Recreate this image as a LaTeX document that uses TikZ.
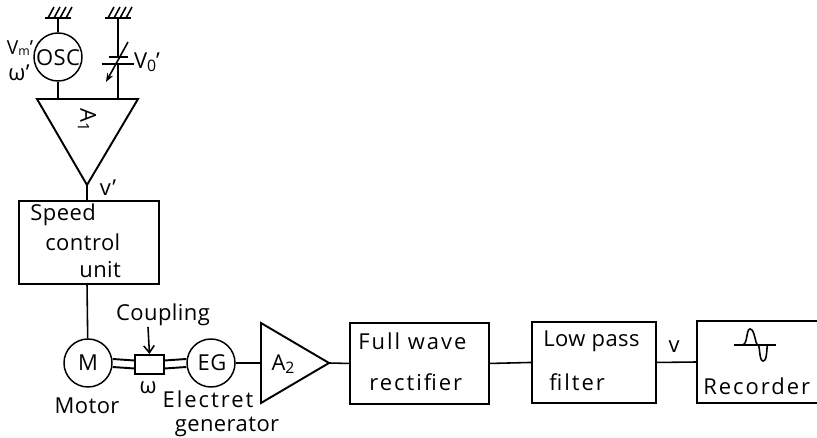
\documentclass[tikz,border=0pt]{standalone}
\usepackage{fontspec}
\setmainfont[LetterSpace=2]{Open Sans}
\newfontfamily\widefont[LetterSpace=9]{Open Sans}
\usetikzlibrary{arrows.meta}
\tikzset{
  wire/.style={line width=.9pt},
  thick wire/.style={line width=1.1pt},
  unitbox/.style={draw,line width=1.1pt,inner sep=0pt,anchor=north west},
  disc/.style={draw,circle,line width=.85pt,minimum size=.96cm,inner sep=0pt},
  lbl/.style={inner sep=0pt,font=\fontsize{12.5}{14}\selectfont},
  widelbl/.style={inner sep=0pt,font=\fontsize{12.5}{14}\selectfont\widefont},
}
\newcommand{\groundmark}[1]{
  \draw[thick wire] ([xshift=-.26cm]#1) -- ([xshift=.26cm]#1);
  \foreach \i in {-.2,-.08,.04,.16}
    \draw[wire] ([xshift=\i cm]#1) -- ++(6,-11);
}
\newcommand{\lowidx}[1]{\raisebox{-1.5pt}{\fontsize{9}{10}\selectfont #1}}
\begin{document}
\begin{tikzpicture}[x=.02cm,y=-.02cm]
\useasboundingbox (0,0) rectangle (817,438);

% upper part
\coordinate (gnd1) at (58,18);
\coordinate (gnd2) at (118,18);
\groundmark{gnd1}
\groundmark{gnd2}
\node[disc] (osc) at (58,57) {};
\node[lbl] (osclabel) at (58,58) {OSC};
\node[lbl,font=\fontsize{11}{12}\selectfont] (vm) at (20,48) {V\raisebox{-1pt}{\fontsize{7}{8}\selectfont m}'};
\node[lbl] (wprime) at (19,73) {ω'};
\coordinate (a1left) at (37,99);
\coordinate (a1right) at (138,99);
\coordinate (a1tip) at (87,185);
\coordinate (a1osc) at (58,99);
\coordinate (a1cap) at (118,99);
\draw[line width=1.1pt] (a1left) -- (a1right) -- (a1tip) -- cycle;
\node[lbl,rotate=-90] (a1) at (87,120) {A\lowidx{1}};
\draw[wire] (gnd1) -- (osc);
\draw[wire] (osc) -- (a1osc);
\coordinate (plate1) at (118,57);
\coordinate (plate2) at (118,64);
\draw[thick wire] (gnd2) -- (plate1);
\draw[wire] (plate2) -- (a1cap);
\draw[line width=1.5pt] ([xshift=-.19cm]plate1) -- ([xshift=.19cm]plate1);
\draw[thick wire] ([xshift=-.33cm]plate2) -- ([xshift=.33cm]plate2);
\coordinate (capstart) at (128,42);
\coordinate (capend) at (106,82);
\draw[wire,-{Stealth[length=5pt]}] (capstart) -- (capend);
\node[lbl] (v0) at (147,62) {V\lowidx{0}'};
\node[lbl] (vprime) at (108,188) {v'};

% speed control
\node[unitbox,minimum width=2.8cm,minimum height=1.66cm] (speed) at (18,200) {};
\coordinate (speedtop) at (87,200);
\coordinate (speedbot) at (87,283);
\draw[wire] (a1tip) -- (speedtop);
\node[lbl,anchor=west] (speedtxt) at (30,215) {Speed};
\node[lbl,anchor=west] (controltxt) at (45,242) {control};
\node[lbl,anchor=west] (unittxt) at (79,270) {unit};

% bottom row
\node[disc] (motor) at (88,363) {};
\node[lbl] (mtxt) at (88,363) {M};
\node[disc] (eg) at (211,363) {};
\node[lbl] (egtxt) at (212,363) {EG};
\node[unitbox,minimum width=.58cm,minimum height=.38cm] (coupling) at (134,354) {};
\draw[wire] (speedbot) -- (motor);
\draw[thick wire] ([yshift=.08cm]motor.east) -- ([yshift=.08cm]coupling.west);
\draw[thick wire] ([yshift=-.08cm]motor.east) -- ([yshift=-.08cm]coupling.west);
\draw[thick wire] ([yshift=.08cm]coupling.east) -- ([yshift=.08cm]eg.west);
\draw[thick wire] ([yshift=-.08cm]coupling.east) -- ([yshift=-.08cm]eg.west);
\node[lbl] (couplingtxt) at (163,315) {Coupling};
\coordinate (couplingarrow) at (148,327);
\draw[wire,-{Straight Barb[length=4pt,width=6pt]}] (couplingarrow) -- (coupling.north);
\node[lbl] (omega) at (148,388) {ω};
\node[lbl] (motortxt) at (87,406) {Motor};
\node[widelbl] (electret) at (208,399) {Electret};
\node[lbl] (generator) at (227,427) {generator};
\coordinate (a2top) at (261,323);
\coordinate (a2bot) at (261,403);
\coordinate (a2in) at (261,363);
\coordinate (a2tip) at (329,363);
\draw[line width=1.1pt] (a2top) -- (a2tip) -- (a2bot) -- cycle;
\node[lbl] (a2) at (283,364) {A\lowidx{2}};
\draw[wire] (eg) -- (a2in);
\node[unitbox,minimum width=2.78cm,minimum height=1.62cm] (rect) at (349,322) {};
\node[unitbox,minimum width=2.48cm,minimum height=1.62cm] (filter) at (531,321) {};
\coordinate (recl) at (697,321);
\coordinate (recr) at (817,321);
\coordinate (recbl) at (697,403);
\coordinate (recbr) at (817,403);
\coordinate (recin) at (697,362);
\draw[line width=1.2pt] (recr) -- (recl) -- (recbl) -- (recbr);
\draw[wire] (a2tip) -- (rect.west);
\draw[wire] (rect.east) -- (filter.west);
\draw[wire] (filter.east) -- (recin);
\node[widelbl,anchor=west] (fullwave) at (358,341) {Full wave};
\node[widelbl,anchor=west] (rectifier) at (369,382) {rectifier};
\node[lbl,anchor=west] (lowpass) at (543,341) {Low pass};
\node[widelbl,anchor=west] (filtertxt) at (549,382) {filter};
\node[lbl] (vout) at (674,347) {v};
\node[widelbl,anchor=west] (recorder) at (703,386) {Recorder};
% trace on the recorder
\coordinate (tracel) at (734,345);
\coordinate (tracer) at (776,345);
\draw[wire] (tracel) -- (tracer);
\draw[wire] (742,345) .. controls (748,345) and (746,329) .. (750,329) .. controls (755,329) and (755,345) .. (758,345) .. controls (760,345) and (759,361) .. (763,361) .. controls (768,361) and (766,345) .. (768,345);
\end{tikzpicture}
\end{document}
